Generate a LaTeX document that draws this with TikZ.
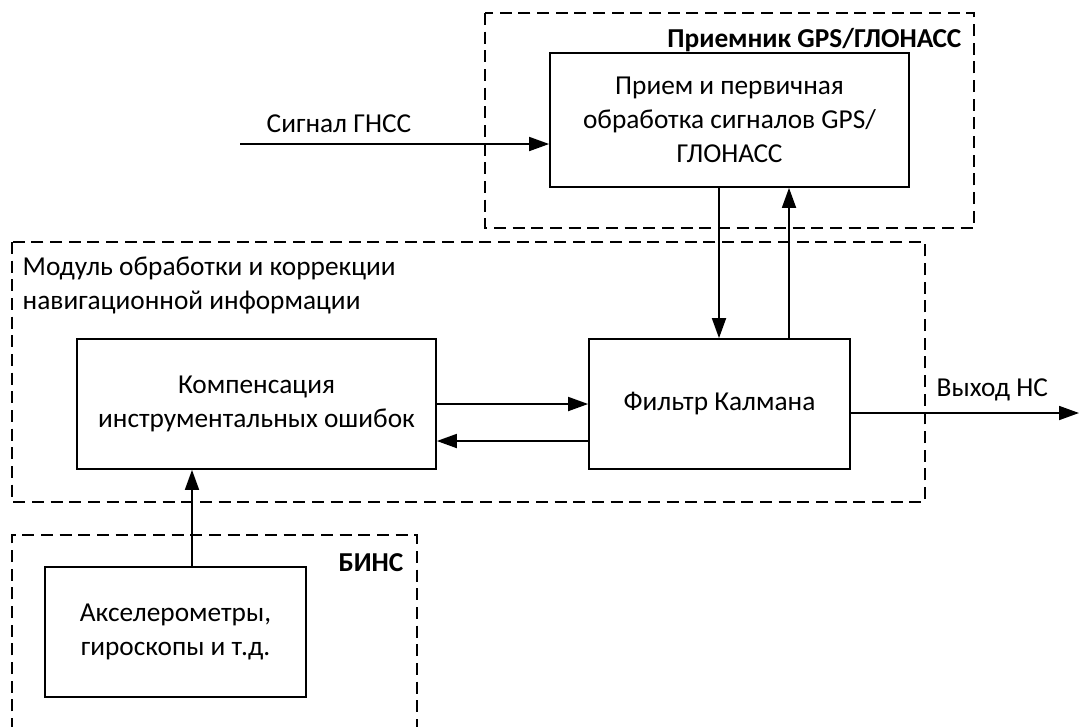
\documentclass[tikz,border=0pt]{standalone}
\usepackage{fontspec}
\setmainfont{Carlito}
\usetikzlibrary{arrows.meta}
\begin{document}
\begin{tikzpicture}[x=0.75pt,y=-0.75pt,
  every node/.style={font=\fontsize{20.5}{25.5}\selectfont},
  blockbox/.style 2 args={draw,line width=1.3pt,inner sep=0pt,align=center,
    minimum width=#1*0.75pt,minimum height=#2*0.75pt},
  group/.style={line width=1.1pt,dash pattern=on 9pt off 5pt},
  flow/.style={line width=1.3pt,-{Triangle[length=15pt,width=10.5pt]}},
  grouptitle/.style={font=\fontsize{20.5}{25.5}\selectfont\bfseries},
]
\useasboundingbox (0,0) rectangle (1080,726);

% dashed groups
\draw[group] (485,13) rectangle (974,228);
\draw[group] (12,242) rectangle (925,502);
\draw[group] (12,730) |- (417,535) -- (417,730);

\node[grouptitle,anchor=east] (gpsTitle) at (966,40) {Приемник GPS/ГЛОНАСС};
\node[grouptitle,anchor=east] (binsTitle) at (408,563) {БИНС};
\node[anchor=west,align=left] (modTitle) at (18,285)
  {Модуль обработки и коррекции\\навигационной информации};

% blocks
\node[blockbox={359}{134}] (gps) at (729.5,120)
  {Прием и первичная\\обработка сигналов GPS/\\ГЛОНАСС};
\node[blockbox={359}{130}] (comp) at (256.5,404)
  {Компенсация\\инструментальных ошибок};
\node[blockbox={261}{130}] (kal) at (719.5,404) {Фильтр Калмана};
\node[blockbox={261}{130}] (acc) at (175.5,632)
  {Акселерометры,\\гироскопы и т.д.};

% connectors
\coordinate (sig) at (240,144);
\coordinate (down) at (719,0);
\coordinate (up) at (789,0);
\coordinate (fwd) at (0,404);
\coordinate (back) at (0,441);
\coordinate (outy) at (0,413);
\coordinate (out) at (1079,413);
\coordinate (imu) at (192,0);

\draw[flow] (sig) -- (sig -| gps.west);
\node[anchor=south west] (sigLabel) at (262,137) {Сигнал ГНСС};
\draw[flow] (down |- gps.south) -- (down |- kal.north);
\draw[flow] (up |- kal.north) -- (up |- gps.south);
\draw[flow] (fwd -| comp.east) -- (fwd -| kal.west);
\draw[flow] (back -| kal.west) -- (back -| comp.east);
\draw[flow] (outy -| kal.east) -- (out);
\node[anchor=south west] (outLabel) at (932,406) {Выход НС};
\draw[flow] (imu |- acc.north) -- (imu |- comp.south);
\end{tikzpicture}
\end{document}
